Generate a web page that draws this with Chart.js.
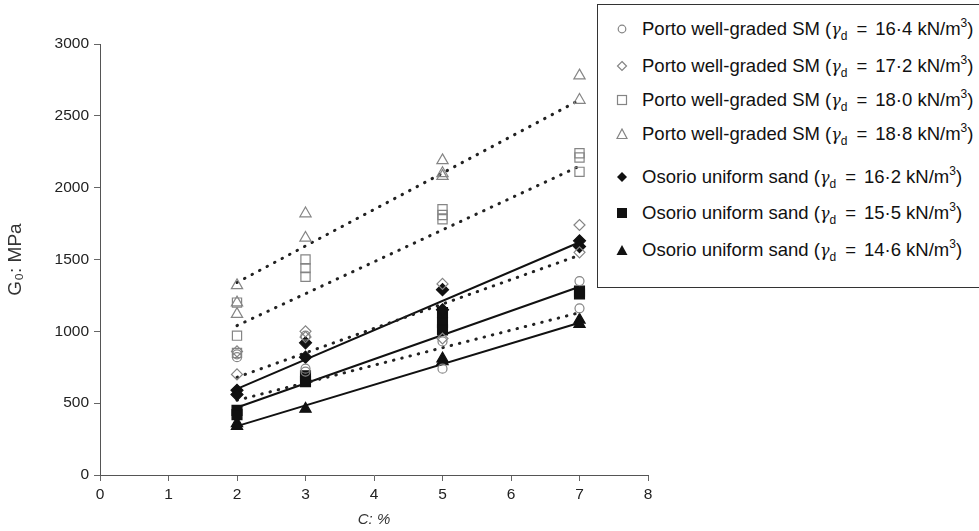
<!DOCTYPE html>
<html>
<head>
<meta charset="utf-8">
<script src="https://cdn.jsdelivr.net/npm/chart.js@4.4.1/dist/chart.umd.min.js"></script>
<style>
  body { margin: 0; background: #fff; }
  #wrap { position: relative; width: 979px; height: 531px; overflow: hidden; }
  #legend {
    position: absolute; left: 597px; top: 4px; width: 420px; height: 284px;
    border: 1px solid #333; background: #fff; box-sizing: border-box;
    font-family: "Liberation Sans", Arial, sans-serif; font-size: 18.5px; color: #111;
  }
  .row { position: absolute; left: 0; height: 22px; line-height: 22px; white-space: nowrap; }
  .row svg { position: absolute; left: 18px; top: 5px; }
  .row span.t { position: absolute; left: 44px; top: 0; }
  .row i { font-family: "DejaVu Serif", serif; font-size: 16px; }
  .row sub { font-size: 12px; vertical-align: -5px; line-height: 0; }
  .row sup { font-size: 12px; vertical-align: 8px; line-height: 0; }
  .row .eq { margin: 0 8px 0 9px; }
</style>
</head>
<body>
<div id="wrap">
  <canvas id="chart" width="979" height="531"></canvas>
  <div id="legend"></div>
</div>
<script>
// cement content C (%) vs G0 (MPa)
const porto164 = [[2, 840], [2, 820], [3, 970], [3, 740], [3, 720], [5, 930], [5, 740], [7, 1350], [7, 1160]];
const porto172 = [[2, 860], [2, 700], [3, 1000], [3, 960], [5, 1330], [5, 950], [7, 1740], [7, 1550]];
const porto180 = [[2, 1200], [2, 970], [2, 850], [3, 1500], [3, 1440], [3, 1380], [5, 1850], [5, 1810], [5, 1780], [7, 2240], [7, 2210], [7, 2110]];
const porto188 = [[2, 1320], [2, 1200], [2, 1120], [3, 1820], [3, 1650], [5, 2190], [5, 2100], [5, 2080], [7, 2780], [7, 2610]];
const osorio162 = [[2, 590], [2, 560], [3, 920], [3, 820], [5, 1290], [5, 1150], [7, 1630], [7, 1590]];
const osorio155 = [[2, 450], [2, 420], [3, 690], [3, 650], [5, 1130], [5, 1060], [5, 1010], [7, 1280], [7, 1260]];
const osorio146 = [[2, 360], [2, 340], [3, 460], [5, 810], [5, 790], [7, 1080], [7, 1050]];

// trend line end points (C = 2 and C = 7)
const trend164 = [[2, 520], [7, 1130]];
const trend172 = [[2, 680], [7, 1530]];
const trend180 = [[2, 1040], [7, 2150]];
const trend188 = [[2, 1340], [7, 2610]];
const trend162 = [[2, 600], [7, 1620]];
const trend155 = [[2, 470], [7, 1310]];
const trend146 = [[2, 340], [7, 1060]];

const xTicks = [0, 1, 2, 3, 4, 5, 6, 7, 8];
const yTicks = [0, 500, 1000, 1500, 2000, 2500, 3000];

const legendLabels = [
  ['Porto well-graded SM', '16·4'],
  ['Porto well-graded SM', '17·2'],
  ['Porto well-graded SM', '18·0'],
  ['Porto well-graded SM', '18·8'],
  ['Osorio uniform sand', '16·2'],
  ['Osorio uniform sand', '15·5'],
  ['Osorio uniform sand', '14·6']
];

const GREY = '#858585';
const BLACK = '#111';
const FONT = '"Liberation Sans", Arial, sans-serif';

const pts = arr => arr.map(p => ({ x: p[0], y: p[1] }));

function markers(data, style, radius, filled) {
  return {
    type: 'scatter',
    data: pts(data),
    pointStyle: style,
    pointRadius: radius,
    pointBackgroundColor: filled ? BLACK : 'rgba(255,255,255,0)',
    pointBorderColor: filled ? BLACK : GREY,
    pointBorderWidth: 1.2,
    showLine: false,
    order: 1
  };
}

function trend(data, dotted) {
  return {
    type: 'line',
    data: pts(data),
    borderColor: dotted ? '#222' : BLACK,
    borderWidth: dotted ? 3 : 2,
    borderDash: dotted ? [0.5, 8] : [],
    borderCapStyle: 'round',
    pointRadius: 0,
    fill: false,
    order: 2
  };
}

const datasets = [
  trend(trend188, true), trend(trend180, true), trend(trend172, true), trend(trend164, true),
  trend(trend162, false), trend(trend155, false), trend(trend146, false),
  markers(porto164, 'circle', 4.5, false),
  markers(porto172, 'rectRot', 5.5, false),
  markers(porto180, 'rect', 6.5, false),
  markers(porto188, 'triangle', 6.5, false),
  markers(osorio162, 'rectRot', 6, true),
  markers(osorio155, 'rect', 7, true),
  markers(osorio146, 'triangle', 6.5, true)
];

const axisBase = {
  type: 'linear',
  border: { display: true, color: '#555', width: 1 },
  grid: { display: true, drawOnChartArea: false, drawTicks: true, tickLength: 6, color: '#666' },
};

new Chart(document.getElementById('chart').getContext('2d'), {
  type: 'scatter',
  data: { datasets: datasets },
  options: {
    responsive: false,
    animation: false,
    layout: { padding: { left: 0, right: 331, top: 44, bottom: 0 } },
    plugins: { legend: { display: false }, tooltip: { enabled: false } },
    scales: {
      x: Object.assign({}, axisBase, {
        min: 0, max: 8,
        afterBuildTicks: s => { s.ticks = xTicks.map(v => ({ value: v })); },
        afterFit: s => { s.height = 56; },
        ticks: { color: '#222', font: { family: FONT, size: 15.5 }, padding: 4, callback: v => String(v) },
        title: { display: true, text: 'C: %', color: '#333', font: { family: FONT, size: 15, style: 'italic' }, padding: { top: 0, bottom: 2 } }
      }),
      y: Object.assign({}, axisBase, {
        min: 0, max: 3000,
        afterBuildTicks: s => { s.ticks = yTicks.map(v => ({ value: v })); },
        afterFit: s => { s.width = 100; },
        ticks: { color: '#222', font: { family: FONT, size: 15.5 }, padding: 5, callback: v => String(v) },
        title: { display: true, text: 'G₀: MPa', color: '#333', font: { family: FONT, size: 19 }, padding: { top: 4, bottom: 0 } }
      })
    }
  }
});

// HTML legend, so the subscript / superscript can stay as real text
const markerSvg = [
  '<circle cx="6" cy="6" r="3.8" fill="none" stroke="' + GREY + '" stroke-width="1.2"/>',
  '<path d="M6 1.5 L10.5 6 L6 10.5 L1.5 6 Z" fill="none" stroke="' + GREY + '" stroke-width="1.2"/>',
  '<rect x="1.5" y="1.5" width="9" height="9" fill="none" stroke="' + GREY + '" stroke-width="1.2"/>',
  '<path d="M6 1 L11 10.5 L1 10.5 Z" fill="none" stroke="' + GREY + '" stroke-width="1.2"/>',
  '<path d="M6 1 L11 6 L6 11 L1 6 Z" fill="' + BLACK + '"/>',
  '<rect x="1" y="1" width="10" height="10" fill="' + BLACK + '"/>',
  '<path d="M6 1 L11.5 11 L0.5 11 Z" fill="' + BLACK + '"/>'
];
const rowTops = [17, 54, 88, 122, 165, 201, 238];
const legend = document.getElementById('legend');
legendLabels.forEach((lab, i) => {
  const row = document.createElement('div');
  row.className = 'row';
  row.style.top = (rowTops[i] - 4) + 'px';
  row.innerHTML = '<svg width="12" height="12">' + markerSvg[i] + '</svg>' +
    '<span class="t">' + lab[0] + ' (<i>γ</i><sub>d</sub><span class="eq">=</span>' + lab[1] + ' kN/m<sup>3</sup>)</span>';
  legend.appendChild(row);
});
</script>
</body>
</html>
